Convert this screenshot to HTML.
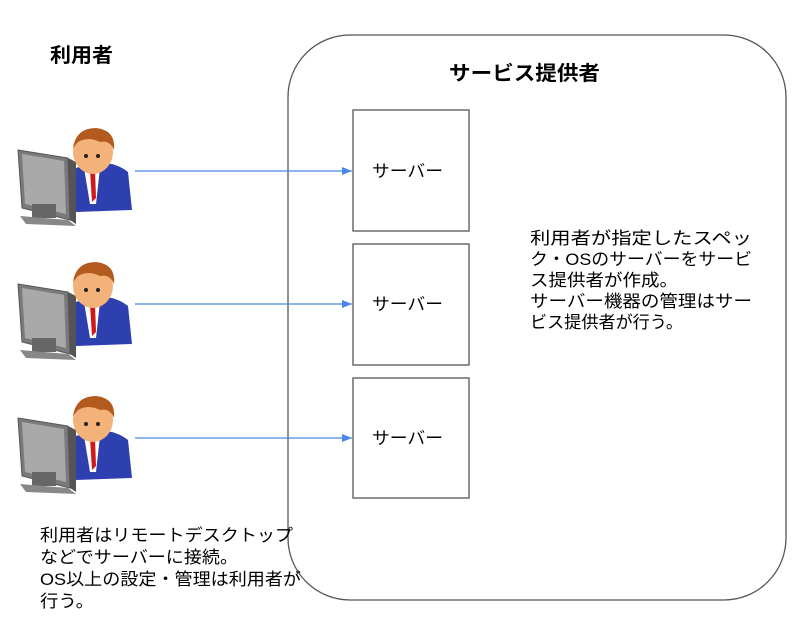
<!DOCTYPE html>
<html><head><meta charset="utf-8"><style>
body{margin:0;background:#fff;}
svg text{font-family:"Liberation Sans","Noto Sans CJK JP",sans-serif;}
</style></head><body>
<svg width="802" height="630" viewBox="0 0 802 630" xmlns="http://www.w3.org/2000/svg">
<defs>
<g id="user">
  <polygon points="0,22 50,30 52,92 4,80" fill="#7a7a7a" stroke="#555" stroke-width="1"/>
  <polygon points="4,26 46,33 48,86 7,76" fill="#a9a9a9"/>
  <polygon points="50,30 58,34 58,96 52,92" fill="#555"/>
  <rect x="14" y="76" width="24" height="14" fill="#666"/>
  <polygon points="2,88 50,92 58,98 8,96" fill="#888"/>
  <path d="M58,40 Q90,28 110,44 L114,82 L58,84 Z" fill="#2e3fb0"/>
  <path d="M66,40 L82,40 L78,76 L72,76 Z" fill="#fff"/>
  <path d="M72,42 L77,42 L78,70 L74,74 Z" fill="#d01a1a"/>
  <ellipse cx="75" cy="24" rx="20" ry="22" fill="#f3b27a"/>
  <path d="M55,20 Q58,0 78,0 Q98,2 96,22 Q92,12 82,14 Q70,8 60,14 Z" fill="#b35a1e"/>
  <circle cx="68" cy="28" r="2" fill="#222"/><circle cx="80" cy="28" r="2" fill="#222"/>
</g>
<marker id="ah" markerWidth="10" markerHeight="8" refX="10" refY="4" orient="auto" markerUnits="userSpaceOnUse">
  <polygon points="0,0 10,4 0,8" fill="#4a86e8"/>
</marker>
</defs>

<rect x="288" y="35" width="498" height="565" rx="62" ry="62" fill="#fff" stroke="#555" stroke-width="1.3"/>

<text x="50" y="62" font-size="20" font-weight="bold" textLength="63" lengthAdjust="spacingAndGlyphs">利用者</text>
<text x="449" y="80" font-size="20" font-weight="bold" textLength="151" lengthAdjust="spacingAndGlyphs">サービス提供者</text>

<use href="#user" x="18" y="128"/>
<use href="#user" x="18" y="262"/>
<use href="#user" x="18" y="396"/>

<line x1="135" y1="171" x2="352" y2="171" stroke="#4a86e8" stroke-width="1.3" marker-end="url(#ah)"/>
<line x1="135" y1="304" x2="352" y2="304" stroke="#4a86e8" stroke-width="1.3" marker-end="url(#ah)"/>
<line x1="135" y1="438" x2="352" y2="438" stroke="#4a86e8" stroke-width="1.3" marker-end="url(#ah)"/>

<rect x="353" y="110" width="116" height="121" fill="#fff" stroke="#555" stroke-width="1.3"/>
<rect x="353" y="244" width="116" height="121" fill="#fff" stroke="#555" stroke-width="1.3"/>
<rect x="353" y="378" width="116" height="120" fill="#fff" stroke="#555" stroke-width="1.3"/>
<text x="372" y="177" font-size="17" textLength="71" lengthAdjust="spacingAndGlyphs">サーバー</text>
<text x="372" y="310" font-size="17" textLength="71" lengthAdjust="spacingAndGlyphs">サーバー</text>
<text x="372" y="444" font-size="17" textLength="71" lengthAdjust="spacingAndGlyphs">サーバー</text>

<g font-size="17" fill="#000" lengthAdjust="spacingAndGlyphs">
<text x="530" y="244" textLength="222" lengthAdjust="spacingAndGlyphs">利用者が指定したスペッ</text>
<text x="530" y="265" textLength="222" lengthAdjust="spacingAndGlyphs">ク・OSのサーバーをサービ</text>
<text x="530" y="286" textLength="148" lengthAdjust="spacingAndGlyphs">ス提供者が作成。</text>
<text x="530" y="307" textLength="222" lengthAdjust="spacingAndGlyphs">サーバー機器の管理はサー</text>
<text x="530" y="328" textLength="153" lengthAdjust="spacingAndGlyphs">ビス提供者が行う。</text>
<text x="40" y="541" textLength="253" lengthAdjust="spacingAndGlyphs">利用者はリモートデスクトップ</text>
<text x="40" y="563" textLength="198" lengthAdjust="spacingAndGlyphs">などでサーバーに接続。</text>
<text x="40" y="585" textLength="261" lengthAdjust="spacingAndGlyphs">OS以上の設定・管理は利用者が</text>
<text x="40" y="607" textLength="54" lengthAdjust="spacingAndGlyphs">行う。</text>
</g>
</svg>
</body></html>
